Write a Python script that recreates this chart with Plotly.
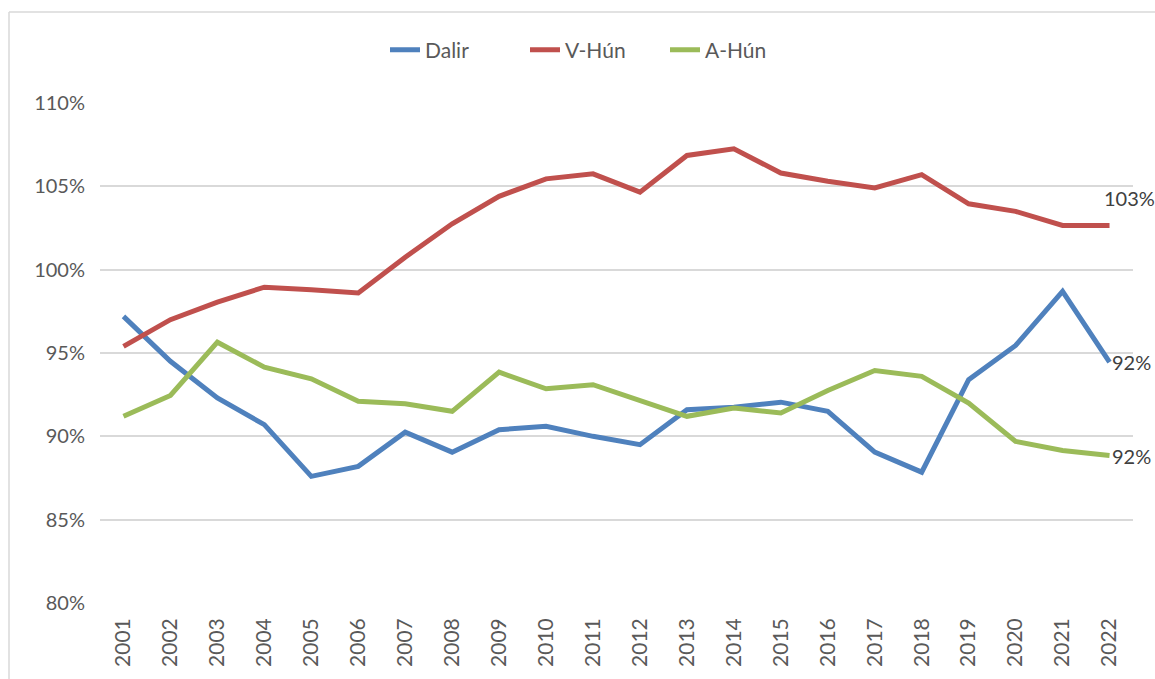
import plotly.graph_objects as go

years = [str(y) for y in range(2001, 2023)]
dalir = [97.2, 94.5, 92.3, 90.7, 87.6, 88.2, 90.25, 89.05, 90.4, 90.6, 90.0, 89.5,
         91.6, 91.75, 92.05, 91.5, 89.05, 87.85, 93.4, 95.45, 98.7, 94.45]
v_hun = [95.4, 97.0, 98.05, 98.95, 98.8, 98.6, 100.75, 102.75, 104.4, 105.45, 105.75, 104.65,
         106.85, 107.25, 105.8, 105.3, 104.9, 105.7, 103.95, 103.5, 102.65, 102.65]
a_hun = [91.2, 92.45, 95.65, 94.15, 93.45, 92.1, 91.95, 91.5, 93.85, 92.85, 93.1, 92.15,
         91.2, 91.7, 91.4, 92.75, 93.95, 93.6, 92.0, 89.7, 89.15, 88.85]
series_names = ["Dalir", "V-Hún", "A-Hún"]
series_colors = ["#4f81bd", "#c0504d", "#9bbb59"]
end_labels = ["92%", "103%", "92%"]
y_ticks = [80, 85, 90, 95, 100, 105, 110]
y_tick_text = [f"{t}%" for t in y_ticks]

font_family = "Lato, sans-serif"
grey = "#595959"

W, H = 1155, 679
L, T, R, B = 100, 103, 22, 76
PW, PH = W - L - R, H - T - B

def px2paper_x(px):
    return (px - L) / PW

def px2paper_y(py):
    return (H - B - py) / PH

fig = go.Figure()
for name, vals, col in zip(series_names, [dalir, v_hun, a_hun], series_colors):
    fig.add_trace(go.Scatter(x=years, y=vals, mode="lines", name=name,
                             line=dict(color=col, width=5)))

label_offsets = [(0, 0, "left", "middle"), (-8, 14, "left", "bottom"), (0, 0, "left", "middle")]
last = len(years) - 1
for vals, lab, (dx, dy, xa, ya) in zip([dalir, v_hun, a_hun], end_labels, label_offsets):
    fig.add_annotation(x=last, y=vals[-1], xref="x", yref="y", text=lab, showarrow=False,
                       xanchor=xa, yanchor=ya, xshift=dx, yshift=dy,
                       font=dict(size=20, color="#404040", family=font_family))

# chart border (top and left)
fig.add_shape(type="line", xref="paper", yref="paper",
              x0=px2paper_x(9), x1=px2paper_x(1160),
              y0=px2paper_y(12), y1=px2paper_y(12),
              line=dict(color="#d9d9d9", width=1.5))
fig.add_shape(type="line", xref="paper", yref="paper",
              x0=px2paper_x(9), x1=px2paper_x(9),
              y0=px2paper_y(12), y1=px2paper_y(700),
              line=dict(color="#d9d9d9", width=1.5))

fig.update_layout(
    width=W, height=H,
    margin=dict(l=L, r=R, t=T, b=B, autoexpand=False),
    paper_bgcolor="white", plot_bgcolor="white",
    font=dict(family=font_family, color=grey),
    legend=dict(orientation="h", x=px2paper_x(385), xanchor="left",
                y=px2paper_y(50), yanchor="middle", entrywidth=95, entrywidthmode="pixels",
                font=dict(size=21, color=grey), traceorder="normal"),
    showlegend=True,
)
fig.update_xaxes(type="category", range=[-0.5, 21.5], tickangle=-90,
                 tickfont=dict(size=21, color=grey), showgrid=False,
                 showline=False, ticks="", zeroline=False, ticklabelstandoff=10)
fig.update_yaxes(range=[80, 110], tickvals=y_ticks, ticktext=y_tick_text,
                 tickfont=dict(size=20, color=grey), showgrid=True,
                 gridcolor="#d9d9d9", gridwidth=1.5, zeroline=False,
                 showline=False, ticks="", ticklabelstandoff=14)

fig.write_html("out.html", config={"displayModeBar": False},
               post_script="document.body.style.margin='0';document.body.style.overflow='hidden';")
